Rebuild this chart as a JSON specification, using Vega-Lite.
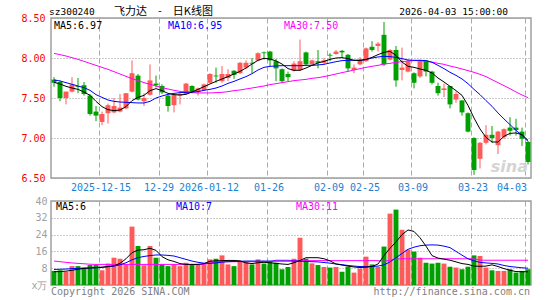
{
"$schema": "https://vega.github.io/schema/vega-lite/v6.json",
"background": "white",
"padding": {"left": 20, "top": 4, "right": 5, "bottom": 2},
"autosize": {"type": "pad"},
"spacing": 2,
"config": {
  "font": "DejaVu Sans Mono",
  "view": {"stroke": "#a0a0a0", "strokeWidth": 1.5},
  "axis": {"labelFont": "DejaVu Sans Mono", "labelFontSize": 10, "domain": false, "ticks": false, "labelOverlap": false}
},
"datasets": {"k": [
{"d":"2025-12-03","o":7.73,"h":7.76,"l":7.64,"c":7.69,"v":6.7,"m5":7.696,"m10":7.725,"m30":8.058,"vm5":6.3,"vm10":7.4,"vm30":11.4},
{"d":"2025-12-04","o":7.70,"h":7.72,"l":7.46,"c":7.50,"v":7.0,"m5":7.675,"m10":7.713,"m30":8.042,"vm5":6.4,"vm10":7.5,"vm30":11.1},
{"d":"2025-12-05","o":7.50,"h":7.58,"l":7.42,"c":7.58,"v":6.3,"m5":7.646,"m10":7.692,"m30":8.025,"vm5":6.6,"vm10":7.6,"vm30":10.8},
{"d":"2025-12-08","o":7.58,"h":7.76,"l":7.57,"c":7.67,"v":9.0,"m5":7.625,"m10":7.671,"m30":8.004,"vm5":7.0,"vm10":7.8,"vm30":10.5},
{"d":"2025-12-09","o":7.65,"h":7.75,"l":7.56,"c":7.64,"v":9.0,"m5":7.608,"m10":7.65,"m30":7.983,"vm5":7.5,"vm10":7.9,"vm30":10.3},
{"d":"2025-12-10","o":7.66,"h":7.70,"l":7.53,"c":7.55,"v":8.3,"m5":7.575,"m10":7.629,"m30":7.958,"vm5":7.9,"vm10":8.0,"vm30":10.1},
{"d":"2025-12-11","o":7.53,"h":7.55,"l":7.28,"c":7.30,"v":9.5,"m5":7.533,"m10":7.596,"m30":7.933,"vm5":8.1,"vm10":8.1,"vm30":9.9},
{"d":"2025-12-12","o":7.33,"h":7.40,"l":7.21,"c":7.28,"v":9.5,"m5":7.458,"m10":7.542,"m30":7.908,"vm5":8.3,"vm10":8.2,"vm30":9.8},
{"d":"2025-12-15","o":7.20,"h":7.33,"l":7.16,"c":7.30,"v":7.0,"m5":7.392,"m10":7.508,"m30":7.883,"vm5":8.5,"vm10":8.4,"vm30":9.8},
{"d":"2025-12-16","o":7.31,"h":7.43,"l":7.18,"c":7.41,"v":10.2,"m5":7.354,"m10":7.475,"m30":7.858,"vm5":8.8,"vm10":8.7,"vm30":9.8},
{"d":"2025-12-17","o":7.32,"h":7.50,"l":7.31,"c":7.40,"v":13.0,"m5":7.342,"m10":7.458,"m30":7.829,"vm5":9.2,"vm10":9.0,"vm30":9.8},
{"d":"2025-12-18","o":7.33,"h":7.55,"l":7.32,"c":7.38,"v":12.5,"m5":7.35,"m10":7.45,"m30":7.80,"vm5":10.3,"vm10":9.6,"vm30":9.8},
{"d":"2025-12-19","o":7.37,"h":7.56,"l":7.36,"c":7.56,"v":9.8,"m5":7.392,"m10":7.446,"m30":7.771,"vm5":12.5,"vm10":10.6,"vm30":9.8},
{"d":"2025-12-22","o":7.58,"h":7.97,"l":7.57,"c":7.81,"v":27.8,"m5":7.467,"m10":7.442,"m30":7.742,"vm5":15.4,"vm10":12.0,"vm30":9.8},
{"d":"2025-12-23","o":7.78,"h":7.80,"l":7.47,"c":7.48,"v":18.6,"m5":7.508,"m10":7.438,"m30":7.717,"vm5":16.6,"vm10":13.0,"vm30":9.8},
{"d":"2025-12-24","o":7.46,"h":7.56,"l":7.40,"c":7.50,"v":9.4,"m5":7.533,"m10":7.438,"m30":7.692,"vm5":16.8,"vm10":13.6,"vm30":9.8},
{"d":"2025-12-25","o":7.54,"h":7.92,"l":7.53,"c":7.72,"v":18.6,"m5":7.592,"m10":7.458,"m30":7.671,"vm5":17.5,"vm10":14.0,"vm30":9.8},
{"d":"2025-12-26","o":7.68,"h":7.78,"l":7.63,"c":7.66,"v":13.0,"m5":7.617,"m10":7.50,"m30":7.65,"vm5":16.5,"vm10":14.3,"vm30":9.8},
{"d":"2025-12-29","o":7.65,"h":7.67,"l":7.55,"c":7.57,"v":9.8,"m5":7.592,"m10":7.525,"m30":7.629,"vm5":13.5,"vm10":14.3,"vm30":9.8},
{"d":"2025-12-30","o":7.53,"h":7.54,"l":7.33,"c":7.40,"v":9.0,"m5":7.558,"m10":7.546,"m30":7.613,"vm5":12.0,"vm10":14.1,"vm30":9.8},
{"d":"2025-12-31","o":7.41,"h":7.54,"l":7.32,"c":7.54,"v":9.8,"m5":7.542,"m10":7.558,"m30":7.596,"vm5":11.2,"vm10":13.8,"vm30":9.8},
{"d":"2026-01-05","o":7.53,"h":7.58,"l":7.42,"c":7.55,"v":9.0,"m5":7.538,"m10":7.567,"m30":7.583,"vm5":10.2,"vm10":13.0,"vm30":9.8},
{"d":"2026-01-06","o":7.55,"h":7.69,"l":7.54,"c":7.68,"v":10.6,"m5":7.546,"m10":7.571,"m30":7.575,"vm5":9.8,"vm10":12.2,"vm30":9.8},
{"d":"2026-01-07","o":7.65,"h":7.66,"l":7.56,"c":7.58,"v":9.8,"m5":7.575,"m10":7.575,"m30":7.567,"vm5":9.8,"vm10":11.4,"vm30":9.8},
{"d":"2026-01-08","o":7.58,"h":7.63,"l":7.53,"c":7.62,"v":9.8,"m5":7.608,"m10":7.579,"m30":7.563,"vm5":9.8,"vm10":10.8,"vm30":9.8},
{"d":"2026-01-09","o":7.60,"h":7.68,"l":7.59,"c":7.67,"v":9.8,"m5":7.642,"m10":7.596,"m30":7.563,"vm5":10.2,"vm10":10.4,"vm30":9.8},
{"d":"2026-01-12","o":7.69,"h":7.81,"l":7.68,"c":7.80,"v":12.2,"m5":7.675,"m10":7.608,"m30":7.563,"vm5":11.3,"vm10":10.3,"vm30":10.4},
{"d":"2026-01-13","o":7.78,"h":7.88,"l":7.69,"c":7.77,"v":12.5,"m5":7.708,"m10":7.625,"m30":7.567,"vm5":11.5,"vm10":10.5,"vm30":11.1},
{"d":"2026-01-14","o":7.71,"h":7.90,"l":7.69,"c":7.80,"v":14.1,"m5":7.738,"m10":7.65,"m30":7.571,"vm5":11.6,"vm10":10.9,"vm30":11.1},
{"d":"2026-01-15","o":7.75,"h":7.86,"l":7.71,"c":7.80,"v":9.8,"m5":7.767,"m10":7.683,"m30":7.579,"vm5":11.7,"vm10":11.1,"vm30":11.1},
{"d":"2026-01-16","o":7.84,"h":7.85,"l":7.74,"c":7.79,"v":9.0,"m5":7.80,"m10":7.708,"m30":7.592,"vm5":11.7,"vm10":11.2,"vm30":11.1},
{"d":"2026-01-19","o":7.81,"h":7.95,"l":7.80,"c":7.94,"v":11.4,"m5":7.833,"m10":7.738,"m30":7.60,"vm5":11.5,"vm10":11.3,"vm30":11.1},
{"d":"2026-01-20","o":7.88,"h":7.97,"l":7.86,"c":7.94,"v":11.0,"m5":7.875,"m10":7.767,"m30":7.613,"vm5":10.5,"vm10":11.4,"vm30":11.1},
{"d":"2026-01-21","o":7.94,"h":8.00,"l":7.81,"c":7.93,"v":9.8,"m5":7.925,"m10":7.804,"m30":7.625,"vm5":10.2,"vm10":11.4,"vm30":11.1},
{"d":"2026-01-22","o":7.97,"h":8.07,"l":7.96,"c":8.06,"v":12.2,"m5":7.971,"m10":7.85,"m30":7.638,"vm5":10.6,"vm10":11.4,"vm30":11.1},
{"d":"2026-01-23","o":8.07,"h":8.08,"l":7.98,"c":8.06,"v":10.2,"m5":7.996,"m10":7.883,"m30":7.65,"vm5":10.8,"vm10":11.4,"vm30":11.1},
{"d":"2026-01-26","o":8.08,"h":8.09,"l":7.90,"c":7.97,"v":11.0,"m5":7.988,"m10":7.896,"m30":7.667,"vm5":10.6,"vm10":11.4,"vm30":11.1},
{"d":"2026-01-27","o":7.96,"h":7.99,"l":7.71,"c":7.87,"v":10.6,"m5":7.963,"m10":7.90,"m30":7.679,"vm5":10.3,"vm10":11.4,"vm30":11.8},
{"d":"2026-01-28","o":7.86,"h":7.87,"l":7.69,"c":7.71,"v":7.5,"m5":7.925,"m10":7.904,"m30":7.692,"vm5":10.0,"vm10":11.4,"vm30":11.8},
{"d":"2026-01-29","o":7.80,"h":7.83,"l":7.71,"c":7.76,"v":8.6,"m5":7.867,"m10":7.904,"m30":7.704,"vm5":9.8,"vm10":11.4,"vm30":11.8},
{"d":"2026-01-30","o":7.84,"h":7.96,"l":7.83,"c":7.93,"v":12.5,"m5":7.846,"m10":7.904,"m30":7.717,"vm5":10.6,"vm10":11.4,"vm30":11.6},
{"d":"2026-02-02","o":7.85,"h":8.23,"l":7.84,"c":7.96,"v":22.5,"m5":7.846,"m10":7.904,"m30":7.725,"vm5":11.7,"vm10":11.3,"vm30":11.6},
{"d":"2026-02-03","o":8.07,"h":8.08,"l":7.91,"c":7.92,"v":12.5,"m5":7.875,"m10":7.908,"m30":7.733,"vm5":13.0,"vm10":11.2,"vm30":11.6},
{"d":"2026-02-04","o":7.92,"h":7.98,"l":7.91,"c":7.97,"v":10.3,"m5":7.908,"m10":7.908,"m30":7.746,"vm5":13.0,"vm10":11.1,"vm30":11.6},
{"d":"2026-02-05","o":7.96,"h":8.10,"l":7.87,"c":7.94,"v":9.5,"m5":7.938,"m10":7.913,"m30":7.754,"vm5":13.0,"vm10":11.0,"vm30":11.6},
{"d":"2026-02-06","o":7.94,"h":8.00,"l":7.92,"c":7.97,"v":8.6,"m5":7.958,"m10":7.921,"m30":7.767,"vm5":12.5,"vm10":10.7,"vm30":11.6},
{"d":"2026-02-09","o":8.04,"h":8.06,"l":7.96,"c":8.03,"v":8.3,"m5":7.983,"m10":7.938,"m30":7.783,"vm5":11.5,"vm10":10.4,"vm30":11.6},
{"d":"2026-02-10","o":8.05,"h":8.10,"l":8.04,"c":8.08,"v":8.6,"m5":8.00,"m10":7.954,"m30":7.80,"vm5":10.0,"vm10":10.0,"vm30":11.6},
{"d":"2026-02-11","o":8.09,"h":8.10,"l":8.00,"c":8.07,"v":6.3,"m5":8.004,"m10":7.967,"m30":7.817,"vm5":9.5,"vm10":9.7,"vm30":11.6},
{"d":"2026-02-12","o":8.04,"h":8.05,"l":7.83,"c":7.87,"v":8.7,"m5":7.992,"m10":7.971,"m30":7.833,"vm5":9.0,"vm10":9.3,"vm30":11.6},
{"d":"2026-02-13","o":7.85,"h":7.92,"l":7.81,"c":7.88,"v":5.9,"m5":7.971,"m10":7.971,"m30":7.85,"vm5":8.6,"vm10":9.0,"vm30":11.6},
{"d":"2026-02-24","o":7.92,"h":8.01,"l":7.91,"c":7.97,"v":7.8,"m5":7.967,"m10":7.975,"m30":7.867,"vm5":8.3,"vm10":8.8,"vm30":11.6},
{"d":"2026-02-25","o":7.96,"h":8.13,"l":7.95,"c":8.12,"v":13.5,"m5":7.983,"m10":7.979,"m30":7.883,"vm5":8.5,"vm10":8.7,"vm30":11.6},
{"d":"2026-02-26","o":8.14,"h":8.21,"l":8.08,"c":8.10,"v":9.8,"m5":8.008,"m10":8.00,"m30":7.896,"vm5":8.8,"vm10":8.8,"vm30":11.6},
{"d":"2026-02-27","o":8.15,"h":8.20,"l":8.08,"c":8.18,"v":8.6,"m5":8.042,"m10":8.013,"m30":7.908,"vm5":10.0,"vm10":9.0,"vm30":11.6},
{"d":"2026-03-02","o":8.29,"h":8.45,"l":7.90,"c":7.92,"v":18.3,"m5":8.071,"m10":8.021,"m30":7.925,"vm5":14.0,"vm10":9.6,"vm30":11.3},
{"d":"2026-03-03","o":7.98,"h":8.11,"l":7.97,"c":8.10,"v":34.0,"m5":8.083,"m10":8.017,"m30":7.933,"vm5":17.5,"vm10":11.0,"vm30":11.8},
{"d":"2026-03-04","o":8.10,"h":8.15,"l":7.64,"c":7.72,"v":35.9,"m5":8.033,"m10":8.008,"m30":7.946,"vm5":20.5,"vm10":13.0,"vm30":12.3},
{"d":"2026-03-05","o":7.85,"h":8.13,"l":7.72,"c":7.88,"v":26.3,"m5":7.95,"m10":7.992,"m30":7.954,"vm5":24.0,"vm10":15.0,"vm30":12.5},
{"d":"2026-03-06","o":7.83,"h":7.98,"l":7.82,"c":7.96,"v":16.8,"m5":7.896,"m10":7.975,"m30":7.963,"vm5":26.2,"vm10":17.0,"vm30":12.5},
{"d":"2026-03-09","o":7.81,"h":7.82,"l":7.62,"c":7.69,"v":15.9,"m5":7.883,"m10":7.971,"m30":7.967,"vm5":25.5,"vm10":18.0,"vm30":12.5},
{"d":"2026-03-10","o":7.77,"h":7.98,"l":7.75,"c":7.96,"v":13.0,"m5":7.863,"m10":7.971,"m30":7.967,"vm5":22.5,"vm10":18.7,"vm30":12.5},
{"d":"2026-03-11","o":7.97,"h":7.97,"l":7.77,"c":7.83,"v":10.6,"m5":7.846,"m10":7.967,"m30":7.958,"vm5":18.5,"vm10":19.0,"vm30":12.5},
{"d":"2026-03-12","o":7.83,"h":7.84,"l":7.67,"c":7.69,"v":10.2,"m5":7.813,"m10":7.946,"m30":7.95,"vm5":14.0,"vm10":19.1,"vm30":12.5},
{"d":"2026-03-13","o":7.65,"h":7.69,"l":7.53,"c":7.56,"v":10.6,"m5":7.75,"m10":7.908,"m30":7.933,"vm5":12.8,"vm10":19.0,"vm30":12.5},
{"d":"2026-03-16","o":7.60,"h":7.68,"l":7.51,"c":7.62,"v":10.2,"m5":7.70,"m10":7.867,"m30":7.921,"vm5":12.3,"vm10":18.5,"vm30":12.5},
{"d":"2026-03-17","o":7.65,"h":7.65,"l":7.37,"c":7.42,"v":8.7,"m5":7.646,"m10":7.821,"m30":7.90,"vm5":11.8,"vm10":17.8,"vm30":12.5},
{"d":"2026-03-18","o":7.48,"h":7.58,"l":7.44,"c":7.55,"v":8.3,"m5":7.592,"m10":7.783,"m30":7.883,"vm5":11.0,"vm10":16.0,"vm30":12.5},
{"d":"2026-03-19","o":7.47,"h":7.47,"l":7.28,"c":7.32,"v":7.5,"m5":7.533,"m10":7.738,"m30":7.863,"vm5":10.2,"vm10":14.2,"vm30":12.5},
{"d":"2026-03-20","o":7.31,"h":7.32,"l":7.07,"c":7.08,"v":8.7,"m5":7.408,"m10":7.679,"m30":7.842,"vm5":9.8,"vm10":12.5,"vm30":12.5},
{"d":"2026-03-23","o":7.00,"h":7.01,"l":6.54,"c":6.60,"v":14.1,"m5":7.25,"m10":7.608,"m30":7.821,"vm5":9.0,"vm10":11.5,"vm30":12.5},
{"d":"2026-03-24","o":6.74,"h":6.95,"l":6.62,"c":6.94,"v":13.8,"m5":7.113,"m10":7.542,"m30":7.796,"vm5":8.9,"vm10":10.8,"vm30":11.8},
{"d":"2026-03-25","o":6.94,"h":7.16,"l":6.92,"c":7.04,"v":8.3,"m5":7.008,"m10":7.467,"m30":7.767,"vm5":9.0,"vm10":10.5,"vm30":11.8},
{"d":"2026-03-26","o":7.04,"h":7.15,"l":6.94,"c":7.00,"v":7.0,"m5":6.95,"m10":7.396,"m30":7.729,"vm5":9.6,"vm10":10.3,"vm30":11.8},
{"d":"2026-03-27","o":6.91,"h":7.09,"l":6.80,"c":7.08,"v":6.7,"m5":6.95,"m10":7.313,"m30":7.692,"vm5":8.8,"vm10":10.0,"vm30":11.8},
{"d":"2026-03-30","o":7.01,"h":7.12,"l":6.99,"c":7.11,"v":6.7,"m5":7.021,"m10":7.238,"m30":7.654,"vm5":7.8,"vm10":9.3,"vm30":11.8},
{"d":"2026-03-31","o":7.13,"h":7.26,"l":7.03,"c":7.09,"v":7.5,"m5":7.058,"m10":7.167,"m30":7.617,"vm5":7.0,"vm10":8.8,"vm30":11.8},
{"d":"2026-04-01","o":7.13,"h":7.24,"l":7.03,"c":7.10,"v":5.9,"m5":7.063,"m10":7.096,"m30":7.575,"vm5":6.4,"vm10":8.5,"vm30":11.8},
{"d":"2026-04-02","o":7.08,"h":7.13,"l":6.90,"c":6.99,"v":6.7,"m5":7.042,"m10":7.033,"m30":7.538,"vm5":6.3,"vm10":8.2,"vm30":11.8},
{"d":"2026-04-03","o":6.95,"h":6.96,"l":6.67,"c":6.70,"v":7.5,"m5":6.971,"m10":6.958,"m30":7.504,"vm5":6.3,"vm10":8.0,"vm30":11.8}
]},
"vconcat": [
{
  "width": 480, "height": 160,
  "data": {"name": "k"},
  "resolve": {"axis": {"x": "independent", "y": "independent"}},
  "layer": [
    {"mark": {"type": "rule", "strokeWidth": 1},
     "encoding": {
       "x": {"field": "d", "type": "ordinal", "scale": {"paddingInner": 0, "paddingOuter": 0},
             "axis": {"title": null, "values": ["2025-12-15","2025-12-29","2026-01-12","2026-01-26","2026-02-09","2026-02-25","2026-03-09","2026-03-23","2026-04-03"],
                      "labelExpr": "datum.value == '2025-12-15' || datum.value == '2026-01-12' ? datum.value : slice(datum.value, 5)",
                      "labelAngle": 0, "labelColor": "#1e7fcf", "labelPadding": 4, "labelOverlap": false, "labelBound": false,
                      "bandPosition": 0.1, "grid": true, "gridColor": "#aaaaaa", "gridDash": [5, 3], "gridWidth": 1,
                      "labelAlign": {"condition": {"test": "datum.value == '2026-04-03'", "value": "right"}, "value": "center"},
                      "labelOffset": {"condition": {"test": "datum.value == '2025-12-29'", "value": -3}, "value": -1}}},
       "y": {"field": "l", "type": "quantitative", "scale": {"domain": [6.5, 8.5], "nice": false, "zero": false},
             "axis": {"title": null, "values": [6.5, 7, 7.5, 8, 8.5], "format": ".2f", "labelColor": "#ff0000", "labelPadding": 6, "labelOverlap": false,
                      "grid": true, "gridColor": "#999999", "gridDash": [1, 2], "gridWidth": 1}},
       "y2": {"field": "h"},
       "color": {"condition": {"test": "datum.c >= datum.o", "value": "#ff5a5a"}, "value": "#00a000"}
     }},
    {"data": {"values": [{}]},
     "mark": {"type": "text", "text": "sina", "align": "right", "baseline": "alphabetic", "dx": -3, "dy": -6, "fontSize": 16, "font": "DejaVu Sans", "fontWeight": "bold", "fontStyle": "italic", "color": "#d4d4d4"},
     "encoding": {"x": {"datum": "2026-04-03", "type": "ordinal", "bandPosition": 1, "axis": null}, "y": {"datum": 6.5, "type": "quantitative", "axis": null}}},
    {"mark": {"type": "bar", "width": {"band": 0.82}},
     "encoding": {
       "x": {"field": "d", "type": "ordinal", "axis": null},
       "y": {"field": "o", "type": "quantitative", "axis": null},
       "y2": {"field": "c"},
       "color": {"condition": {"test": "datum.c >= datum.o", "value": "#ff5a5a"}, "value": "#00a000"}
     }},
    {"mark": {"type": "line", "color": "#ff00ff", "strokeWidth": 1},
     "encoding": {"x": {"field": "d", "type": "ordinal", "axis": null}, "y": {"field": "m30", "type": "quantitative", "axis": null}}},
    {"mark": {"type": "line", "color": "#0000ff", "strokeWidth": 1},
     "encoding": {"x": {"field": "d", "type": "ordinal", "axis": null}, "y": {"field": "m10", "type": "quantitative", "axis": null}}},
    {"mark": {"type": "line", "color": "#000000", "strokeWidth": 1},
     "encoding": {"x": {"field": "d", "type": "ordinal", "axis": null}, "y": {"field": "m5", "type": "quantitative", "axis": null}}},
    {"data": {"values": [{}]},
     "mark": {"type": "text", "text": "MA5:6.97", "align": "left", "baseline": "top", "dx": 3, "dy": 3, "fontSize": 10, "font": "DejaVu Sans Mono", "color": "#000000"},
     "encoding": {"x": {"datum": "2025-12-03", "type": "ordinal", "bandPosition": 0, "axis": null}, "y": {"datum": 8.5, "type": "quantitative", "axis": null}}},
    {"data": {"values": [{}]},
     "mark": {"type": "text", "text": "MA10:6.95", "align": "left", "baseline": "top", "dx": 3, "dy": 3, "fontSize": 10, "font": "DejaVu Sans Mono", "color": "#0000ff"},
     "encoding": {"x": {"datum": "2025-12-30", "type": "ordinal", "bandPosition": 0, "axis": null}, "y": {"datum": 8.5, "type": "quantitative", "axis": null}}},
    {"data": {"values": [{}]},
     "mark": {"type": "text", "text": "MA30:7.50", "align": "left", "baseline": "top", "dx": -1, "dy": 3, "fontSize": 10, "font": "DejaVu Sans Mono", "color": "#ff00ff"},
     "encoding": {"x": {"datum": "2026-01-29", "type": "ordinal", "bandPosition": 0, "axis": null}, "y": {"datum": 8.5, "type": "quantitative", "axis": null}}},
    {"data": {"values": [{}]},
     "mark": {"type": "text", "text": "sz300240", "align": "left", "baseline": "alphabetic", "dx": -2, "dy": -3.5, "fontSize": 9.5, "font": "DejaVu Sans Mono", "color": "#000000"},
     "encoding": {"x": {"datum": "2025-12-03", "type": "ordinal", "bandPosition": 0, "axis": null}, "y": {"datum": 8.5, "type": "quantitative", "axis": null}}},
    {"data": {"values": [{}]},
     "mark": {"type": "text", "text": "飞力达　-　日K线图", "align": "left", "baseline": "alphabetic", "dx": -3, "dy": -3.5, "fontSize": 11, "font": "Noto Sans CJK SC", "color": "#000000"},
     "encoding": {"x": {"datum": "2025-12-18", "type": "ordinal", "bandPosition": 0, "axis": null}, "y": {"datum": 8.5, "type": "quantitative", "axis": null}}},
    {"data": {"values": [{}]},
     "mark": {"type": "text", "text": "2026-04-03 15:00:00", "align": "right", "baseline": "alphabetic", "dx": 1, "dy": -3.5, "fontSize": 9.5, "font": "DejaVu Sans Mono", "color": "#000000"},
     "encoding": {"x": {"datum": "2026-03-30", "type": "ordinal", "bandPosition": 1, "axis": null}, "y": {"datum": 8.5, "type": "quantitative", "axis": null}}}
  ]
},
{
  "width": 480, "height": 84,
  "data": {"name": "k"},
  "resolve": {"axis": {"x": "independent", "y": "independent"}},
  "layer": [
    {"mark": {"type": "bar", "width": {"band": 0.82}},
     "encoding": {
       "x": {"field": "d", "type": "ordinal", "scale": {"paddingInner": 0, "paddingOuter": 0},
             "axis": {"title": null, "values": ["2025-12-15","2025-12-29","2026-01-12","2026-01-26","2026-02-09","2026-02-25","2026-03-09","2026-03-23","2026-04-03"],
                      "labels": false, "bandPosition": 0.1, "grid": true, "gridColor": "#aaaaaa", "gridDash": [5, 3], "gridWidth": 1}},
       "y": {"field": "v", "type": "quantitative", "scale": {"domain": [0, 40], "nice": false},
             "axis": {"title": null, "values": [0, 8, 16, 24, 32, 40], "labelColor": "#a0a0a0", "labelPadding": 4, "labelOverlap": false,
                      "labelExpr": "datum.value == 0 ? 'x万' : datum.label",
                      "grid": true, "gridColor": "#999999", "gridDash": [1, 2], "gridWidth": 1}},
       "color": {"condition": {"test": "datum.c >= datum.o", "value": "#ff5a5a"}, "value": "#00a000"}
     }},
    {"mark": {"type": "line", "color": "#ff00ff", "strokeWidth": 1},
     "encoding": {"x": {"field": "d", "type": "ordinal", "axis": null}, "y": {"field": "vm30", "type": "quantitative", "axis": null}}},
    {"mark": {"type": "line", "color": "#0000ff", "strokeWidth": 1},
     "encoding": {"x": {"field": "d", "type": "ordinal", "axis": null}, "y": {"field": "vm10", "type": "quantitative", "axis": null}}},
    {"mark": {"type": "line", "color": "#000000", "strokeWidth": 1},
     "encoding": {"x": {"field": "d", "type": "ordinal", "axis": null}, "y": {"field": "vm5", "type": "quantitative", "axis": null}}},
    {"data": {"values": [{}]},
     "mark": {"type": "text", "text": "MA5:6", "align": "left", "baseline": "top", "dx": 5, "dy": 1, "fontSize": 10, "font": "DejaVu Sans Mono", "color": "#000000"},
     "encoding": {"x": {"datum": "2025-12-03", "type": "ordinal", "bandPosition": 0, "axis": null}, "y": {"datum": 40, "type": "quantitative", "axis": null}}},
    {"data": {"values": [{}]},
     "mark": {"type": "text", "text": "MA10:7", "align": "left", "baseline": "top", "dx": 5, "dy": 1, "fontSize": 10, "font": "DejaVu Sans Mono", "color": "#0000ff"},
     "encoding": {"x": {"datum": "2025-12-31", "type": "ordinal", "bandPosition": 0, "axis": null}, "y": {"datum": 40, "type": "quantitative", "axis": null}}},
    {"data": {"values": [{}]},
     "mark": {"type": "text", "text": "MA30:11", "align": "left", "baseline": "top", "dx": -1, "dy": 1, "fontSize": 10, "font": "DejaVu Sans Mono", "color": "#ff00ff"},
     "encoding": {"x": {"datum": "2026-02-02", "type": "ordinal", "bandPosition": 0, "axis": null}, "y": {"datum": 40, "type": "quantitative", "axis": null}}},
    {"data": {"values": [{}]},
     "mark": {"type": "text", "text": "Copyright 2026 SINA.COM", "align": "left", "baseline": "alphabetic", "dx": 0, "dy": 10, "fontSize": 10, "font": "DejaVu Sans Mono", "color": "#808080"},
     "encoding": {"x": {"datum": "2025-12-03", "type": "ordinal", "bandPosition": 0, "axis": null}, "y": {"datum": 0, "type": "quantitative", "axis": null}}},
    {"data": {"values": [{}]},
     "mark": {"type": "text", "text": "http://finance.sina.com.cn", "align": "right", "baseline": "alphabetic", "dx": -1, "dy": 10, "fontSize": 10, "font": "DejaVu Sans Mono", "color": "#808080"},
     "encoding": {"x": {"datum": "2026-04-03", "type": "ordinal", "bandPosition": 1, "axis": null}, "y": {"datum": 0, "type": "quantitative", "axis": null}}}
  ]
}
]
}
